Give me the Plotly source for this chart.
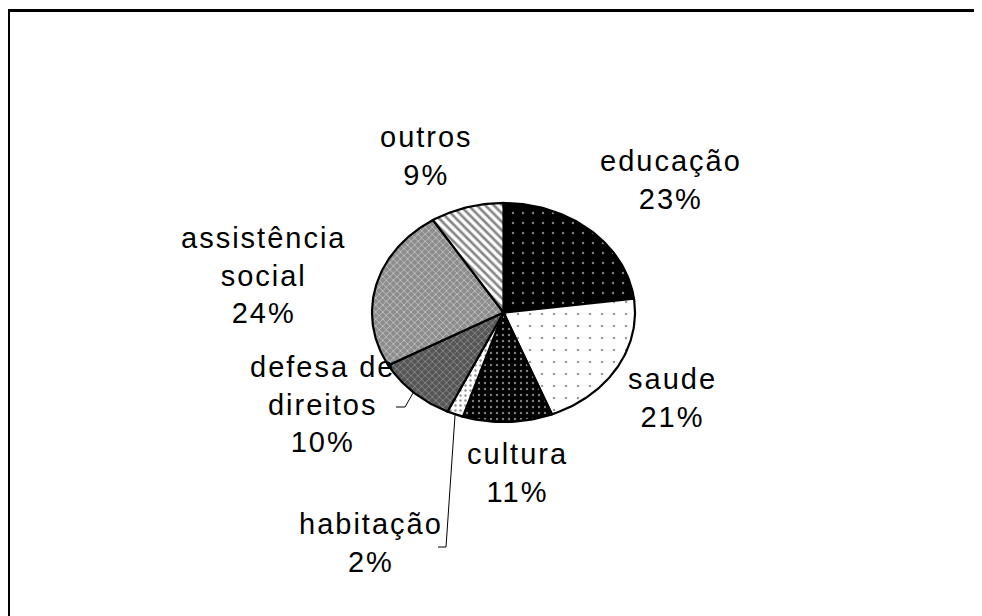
import math
import plotly.graph_objects as go

# ---- data ----
categories = ["educação", "saude", "cultura", "habitação",
              "defesa de direitos", "assistência social", "outros"]
values = [23, 21, 11, 2, 10, 24, 9]
label_text = ["educação", "saude", "cultura", "habitação",
              "defesa de<br>direitos", "assistência<br>social", "outros"]

# ---- styles / layout ----
patterns = [
    dict(shape=".", bgcolor="#000000", fgcolor="#ffffff", size=10, solidity=0.05),
    dict(shape=".", bgcolor="#ffffff", fgcolor="#333333", size=12, solidity=0.035),
    dict(shape=".", bgcolor="#000000", fgcolor="#ffffff", size=6, solidity=0.12),
    dict(shape=".", bgcolor="#ffffff", fgcolor="#222222", size=5, solidity=0.18),
    dict(shape="x", bgcolor="#555555", fgcolor="#dddddd", size=5, solidity=0.25),
    dict(shape="x", bgcolor="#8c8c8c", fgcolor="#ffffff", size=5, solidity=0.3),
    dict(shape="\\", bgcolor="#ffffff", fgcolor="#111111", size=6, solidity=0.45),
]
label_pos = [(671, 180), (672, 398), (517, 473), (371, 543),
             (322, 404), (263, 275), (426, 156)]

cx, cy, rx, ry = 503.5, 312.5, 131.5, 109.5
W, H = 982, 616
OFF = 8  # page body margin: data coordinates = screen pixels
FONT = "Liberation Sans, Arial, sans-serif"


def pt(frac):
    a = 2 * math.pi * frac
    return cx + rx * math.sin(a), cy - ry * math.cos(a)


fig = go.Figure()
total = sum(values)
cum = 0.0
mids = []
for cat, v, pat in zip(categories, values, patterns):
    f0 = cum / total
    f1 = (cum + v) / total
    mids.append((f0 + f1) / 2)
    n = max(int(v * 3), 4)
    xs, ys = [cx], [cy]
    for i in range(n + 1):
        x, y = pt(f0 + (f1 - f0) * i / n)
        xs.append(x)
        ys.append(y)
    xs.append(cx)
    ys.append(cy)
    fig.add_trace(go.Scatter(
        x=xs, y=ys, mode="lines", fill="toself", name=cat,
        fillcolor=pat["bgcolor"], fillpattern=pat,
        line=dict(color="black", width=2.2), hoverinfo="name",
    ))
    cum += v


def leader(idx, via, end):
    x0, y0 = pt(mids[idx])
    fig.add_trace(go.Scatter(x=[x0, via[0], end[0]], y=[y0, via[1], end[1]],
                             mode="lines", line=dict(color="black", width=1),
                             hoverinfo="skip"))


leader(categories.index("defesa de direitos"), (405, 407), (396, 407))
leader(categories.index("habitação"), (446, 547), (438, 547))

for txt, v, (x, y) in zip(label_text, values, label_pos):
    fig.add_annotation(
        x=x, y=y, xref="x", yref="y",
        text=f'<span style="letter-spacing:2px">{txt}<br>{v}%</span>',
        showarrow=False, align="center",
        font=dict(family=FONT, size=29, color="black"))

# chart frame (extends past right/bottom edges)
fig.add_shape(type="rect", xref="x", yref="y", x0=8.5, y0=10.5, x1=1100, y1=800,
              line=dict(color="black", width=3), layer="above")

fig.update_layout(
    width=W, height=H, margin=dict(l=0, r=0, t=0, b=0),
    paper_bgcolor="white", plot_bgcolor="white", showlegend=False,
    xaxis=dict(range=[OFF, W + OFF], visible=False, fixedrange=True),
    yaxis=dict(range=[H + OFF, OFF], visible=False, fixedrange=True),
)
fig.write_html("out.html")
